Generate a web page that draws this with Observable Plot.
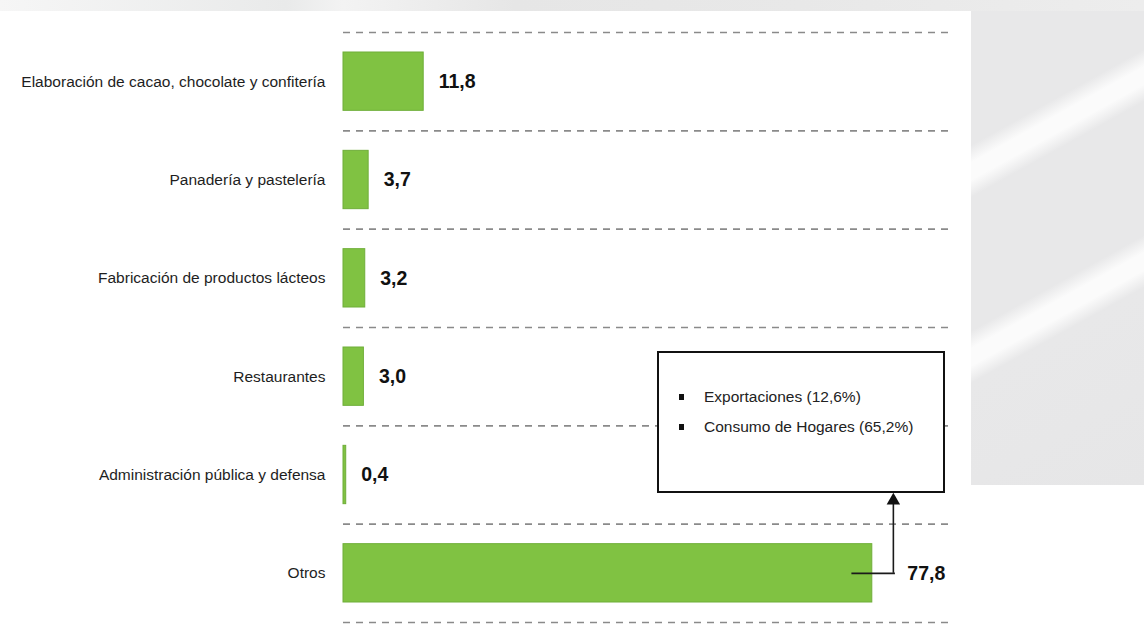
<!DOCTYPE html>
<html><head><meta charset="utf-8">
<script src="https://cdn.jsdelivr.net/npm/d3@7"></script>
<script src="https://cdn.jsdelivr.net/npm/@observablehq/plot@0.6"></script>
<style>
html,body{margin:0;padding:0;background:#fff;}
#wrap{position:relative;width:1144px;height:625px;overflow:hidden;background:#fff;font-family:"Liberation Sans",Arial,sans-serif;}
#bgright{position:absolute;left:971px;top:0;width:173px;height:485px;
 background:linear-gradient(151deg,#e8e8e9 0%,#e8e8e9 25%,#fbfbfb 28%,#fbfbfb 31%,#e8e8e9 34%,#e8e8e9 57%,#fbfbfb 60%,#fbfbfb 63%,#e8e8e9 66%,#e6e6e7 100%);}
#bgtop{position:absolute;left:0;top:0;width:1144px;height:11px;background:linear-gradient(90deg,#f6f6f6 0%,#e9eaea 25%,#f3f3f3 30%,#e6e6e6 45%,#e8e8e8 70%,#ededed 100%);}
#chart{position:absolute;left:0;top:0;}
#note{position:absolute;left:657px;top:351px;width:284px;height:138px;border:2px solid #111;background:#fff;box-sizing:content-box;}
#note ul{list-style:none;margin:0;padding:0;position:absolute;left:20px;top:29px;}
#note li{font-size:15.5px;color:#222;line-height:30px;height:30px;position:relative;padding-left:25px;white-space:nowrap;}
#note li::before{content:"";position:absolute;left:0;top:12px;width:5px;height:6px;background:#111;}
</style></head>
<body>
<div id="wrap">
  <div id="bgright"></div>
  <div id="bgtop"></div>
  <div id="chart"></div>
  <div id="note"><ul id="notelist"></ul></div>
</div>
<script>
const categories = [
  "Elaboración de cacao, chocolate y confitería",
  "Panadería y pastelería",
  "Fabricación de productos lácteos",
  "Restaurantes",
  "Administración pública y defensa",
  "Otros"
];
const values = [11.8, 3.7, 3.2, 3.0, 0.4, 77.8];
const valueLabels = ["11,8", "3,7", "3,2", "3,0", "0,4", "77,8"];
const noteLines = ["Exportaciones (12,6%)", "Consumo de Hogares (65,2%)"];

const data = categories.map((c, i) => ({cat: c, value: values[i], label: valueLabels[i], i}));
const main = data.slice(0, -1);
const otros = data[data.length - 1];

const font = '"Liberation Sans",Arial,sans-serif';

const chart = Plot.plot({
  width: 1144,
  height: 625,
  marginLeft: 343,
  marginRight: 192,
  marginTop: 0,
  marginBottom: 0,
  x: {domain: [0, 89.6], axis: null},
  y: {domain: [0, categories.length], range: [32, 622], axis: null},
  style: {fontFamily: font, background: "transparent", overflow: "visible"},
  marks: [
    Plot.ruleY(d3.range(categories.length + 1), {stroke: "#8a8a8a", strokeWidth: 1.6, strokeDasharray: "7,6"}),
    Plot.rectX(data, {x1: 0, x2: "value", y1: d => d.i, y2: d => d.i + 1, insetTop: 20, insetBottom: 20, fill: "#80c242", stroke: "#6fae39", strokeWidth: 1}),
    Plot.text(data, {x: 0, y: d => d.i + 0.5, text: "cat", textAnchor: "end", dx: -18, fontSize: 15.5, fill: "#1e1e1e"}),
    Plot.text(main, {x: "value", y: d => d.i + 0.5, text: "label", textAnchor: "start", dx: 15, fontSize: 19.5, fontWeight: "bold", fill: "#111"}),
    Plot.text([otros], {x: "value", y: d => d.i + 0.5, text: "label", textAnchor: "start", dx: 35, fontSize: 19.5, fontWeight: "bold", fill: "#111"}),
    Plot.ruleY([otros], {y: d => d.i + 0.5, x1: d => d.value - 3, x2: d => d.value + 3.4, stroke: "#1a1a1a", strokeWidth: 1.6}),
    Plot.ruleX([otros], {x: d => d.value + 3.1, y1: d => d.i + 0.5, y2: d => d.i - 0.22, stroke: "#1a1a1a", strokeWidth: 1.6}),
    Plot.dot([otros], {x: d => d.value + 3.1, y: d => d.i - 0.24, symbol: "triangle", r: 5, fill: "#111", stroke: "none"})
  ]
});
document.getElementById("chart").appendChild(chart);

const ul = document.getElementById("notelist");
noteLines.forEach(t => { const li = document.createElement("li"); li.textContent = t; ul.appendChild(li); });
</script>
</body></html>
